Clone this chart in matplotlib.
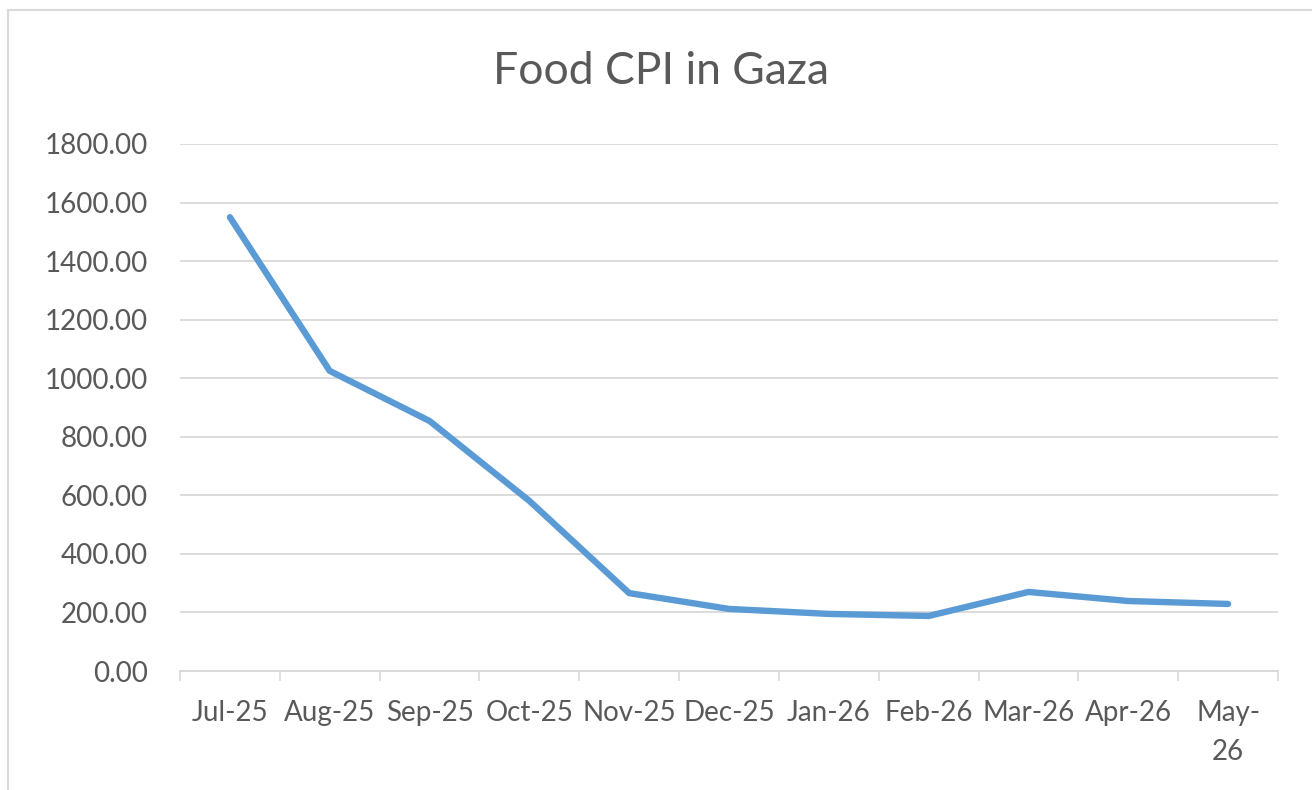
import matplotlib
matplotlib.use("Agg")
import matplotlib.pyplot as plt
from matplotlib.patches import Rectangle
from matplotlib.ticker import FixedLocator, FuncFormatter

months = ["Jul-25", "Aug-25", "Sep-25", "Oct-25", "Nov-25", "Dec-25",
          "Jan-26", "Feb-26", "Mar-26", "Apr-26", "May-\n26"]
cpi = [1550, 1025, 854, 581, 266, 212, 195, 188, 270, 239, 229]
yticks = [0, 200, 400, 600, 800, 1000, 1200, 1400, 1600, 1800]

plt.rcParams['font.family'] = ['Lato', 'DejaVu Sans']
txt = '#595959'
grid = '#D9D9D9'

fig = plt.figure(figsize=(13.12, 7.90), dpi=100)
W, H = 1312, 790
ax = fig.add_axes([180 / W, 1 - 671 / H, (1278 - 180) / W, (671 - 144) / H])

x = list(range(len(months)))
ax.plot(x, cpi, color='#5B9BD5', lw=4.6, solid_capstyle='round', solid_joinstyle='round', zorder=3)

ax.set_xlim(-0.5, len(months) - 0.5)
ax.set_ylim(0, 1800)
ax.set_yticks(yticks)
ax.yaxis.set_major_formatter(FuncFormatter(lambda v, p: f"{v:.2f}"))
ax.set_xticks(x)
ax.set_xticklabels(months)
ax.xaxis.set_minor_locator(FixedLocator([i - 0.5 for i in range(len(months) + 1)]))

ax.tick_params(axis='x', which='major', length=0, pad=21, labelsize=20, colors=txt)
ax.tick_params(axis='x', which='minor', length=7.5, width=1.2, color=grid)
ax.tick_params(axis='y', length=0, pad=23, labelsize=20, colors=txt)
for lab in ax.get_xticklabels():
    lab.set_linespacing(1.6)
    lab.set_verticalalignment('top')

ax.grid(axis='y', color=grid, lw=1.3)
ax.set_axisbelow(True)
for s in ['top', 'right', 'left']:
    ax.spines[s].set_visible(False)
ax.spines['bottom'].set_color(grid)
ax.spines['bottom'].set_linewidth(1.3)

fig.text(661 / W, 1 - 72 / H, "Food CPI in Gaza", ha='center', va='center',
         fontsize=32, color=txt)

fig.patches.append(Rectangle((8 / W, -0.1), 1.2, 1.1 - 10 / H, transform=fig.transFigure,
                             fill=False, edgecolor=grid, lw=1.5))

fig.savefig("out.png", dpi=100)
